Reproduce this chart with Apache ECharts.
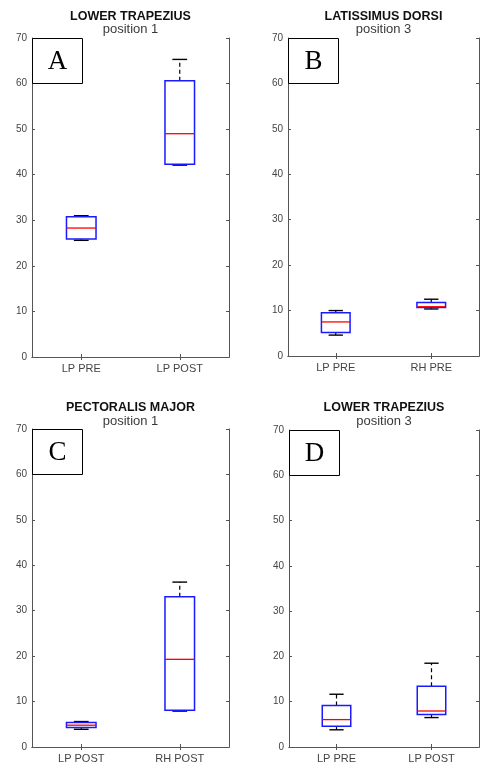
<!DOCTYPE html>
<html>
<head>
<meta charset="utf-8">
<script src="https://cdn.jsdelivr.net/npm/echarts@6/dist/echarts.min.js"></script>
<style>
  html, body { margin: 0; padding: 0; background: #fff; }
  #chart { width: 480px; height: 768px; }
</style>
</head>
<body>
<div id="chart"></div>
<script>
// Panel headings
const panelTitles = ['LOWER TRAPEZIUS', 'LATISSIMUS DORSI', 'PECTORALIS MAJOR', 'LOWER TRAPEZIUS'];
const panelSubtitles = ['position 1', 'position 3', 'position 1', 'position 3'];
const panelLetters = ['A', 'B', 'C', 'D'];

// Group names per panel
const categoriesA = ['LP PRE', 'LP POST'];
const categoriesB = ['LP PRE', 'RH PRE'];
const categoriesC = ['LP POST', 'RH POST'];
const categoriesD = ['LP PRE', 'LP POST'];

// Box statistics per group: [lower whisker, Q1, median, Q3, upper whisker]
const statsA = [[25.6, 25.9, 28.3, 30.8, 31.0], [42.1, 42.3, 49.0, 60.6, 65.3]];
const statsB = [[4.6, 5.2, 7.5, 9.5, 10.0], [10.35, 10.65, 10.85, 11.75, 12.5]];
const statsC = [[3.9, 4.3, 4.8, 5.4, 5.6], [7.9, 8.1, 19.3, 33.1, 36.3]];
const statsD = [[3.8, 4.6, 6.05, 9.15, 11.65], [6.5, 7.15, 7.95, 13.4, 18.5]];

// Shared value axis
const yMin = 0;
const yMax = 70;
const yStep = 10;

const panels = [
  { cats: categoriesA, stats: statsA, grid: { left: 32, top: 38, width: 197, height: 319 }, titleY: 16.5, subY: 29.5 },
  { cats: categoriesB, stats: statsB, grid: { left: 288, top: 38, width: 191, height: 318 }, titleY: 16.5, subY: 29.5 },
  { cats: categoriesC, stats: statsC, grid: { left: 32, top: 429, width: 197, height: 318 }, titleY: 407.5, subY: 421 },
  { cats: categoriesD, stats: statsD, grid: { left: 289, top: 430, width: 190, height: 317 }, titleY: 407.5, subY: 421.5 }
];

const axisColor = '#555';
const labelColor = '#444';

function renderBox(params, api) {
  const x = api.value(0);
  const lo = api.value(1), q1 = api.value(2), med = api.value(3), q3 = api.value(4), hi = api.value(5);
  const band = api.size([1, 0])[0];
  const half = band * 0.15;
  const capHalf = band * 0.075;
  const pLo = api.coord([x, lo]);
  const pQ1 = api.coord([x, q1]);
  const pMed = api.coord([x, med]);
  const pQ3 = api.coord([x, q3]);
  const pHi = api.coord([x, hi]);
  const cx = pMed[0];
  const dashStyle = { stroke: '#000', lineWidth: 1.2, lineDash: [4, 3] };
  const capStyle = { stroke: '#000', lineWidth: 1.4 };
  return {
    type: 'group',
    children: [
      { type: 'line', shape: { x1: cx, y1: pQ3[1], x2: cx, y2: pHi[1] }, style: dashStyle },
      { type: 'line', shape: { x1: cx, y1: pQ1[1], x2: cx, y2: pLo[1] }, style: dashStyle },
      { type: 'line', shape: { x1: cx - capHalf, y1: pHi[1], x2: cx + capHalf, y2: pHi[1] }, style: capStyle },
      { type: 'line', shape: { x1: cx - capHalf, y1: pLo[1], x2: cx + capHalf, y2: pLo[1] }, style: capStyle },
      {
        type: 'rect',
        shape: { x: cx - half, y: pQ3[1], width: half * 2, height: pQ1[1] - pQ3[1] },
        style: { stroke: '#1a1aff', lineWidth: 1.5, fill: 'none' }
      },
      { type: 'line', shape: { x1: cx - half, y1: pMed[1], x2: cx + half, y2: pMed[1] }, style: { stroke: '#ff0000', lineWidth: 1.3 } }
    ]
  };
}

const grids = [], xAxes = [], yAxes = [], series = [], graphics = [];

panels.forEach((p, i) => {
  grids.push(Object.assign({ outerBoundsMode: 'none' }, p.grid));
  // bottom and top category axes
  xAxes.push({
    type: 'category', gridIndex: i, data: p.cats, position: 'bottom',
    axisLine: { show: true, lineStyle: { color: axisColor, width: 1 } },
    axisTick: { show: true, inside: true, alignWithLabel: true, length: 3, lineStyle: { color: axisColor } },
    axisLabel: { color: labelColor, fontFamily: 'Liberation Sans, Arial', fontSize: 11, margin: 6 },
    splitLine: { show: false }
  });
  xAxes.push({
    type: 'category', gridIndex: i, data: p.cats, position: 'top',
    axisLine: { show: true, lineStyle: { color: axisColor, width: 1 } },
    axisTick: { show: true, inside: true, alignWithLabel: true, length: 3, lineStyle: { color: axisColor } },
    axisLabel: { show: false },
    splitLine: { show: false }
  });
  // left and right value axes
  yAxes.push({
    type: 'value', gridIndex: i, min: yMin, max: yMax, interval: yStep, position: 'left',
    axisLine: { show: true, lineStyle: { color: axisColor, width: 1 } },
    axisTick: { show: true, inside: true, length: 3, lineStyle: { color: axisColor } },
    axisLabel: { color: labelColor, fontFamily: 'Liberation Sans, Arial', fontSize: 10, margin: 5 },
    splitLine: { show: false }
  });
  yAxes.push({
    type: 'value', gridIndex: i, min: yMin, max: yMax, interval: yStep, position: 'right',
    axisLine: { show: true, lineStyle: { color: axisColor, width: 1 } },
    axisTick: { show: true, inside: true, length: 3, lineStyle: { color: axisColor } },
    axisLabel: { show: false },
    splitLine: { show: false }
  });
  series.push({
    type: 'custom',
    xAxisIndex: i * 2,
    yAxisIndex: i * 2,
    renderItem: renderBox,
    encode: { x: 0, y: [1, 2, 3, 4, 5] },
    data: p.stats.map((s, k) => [k].concat(s)),
    z: 3
  });

  const cx = p.grid.left + p.grid.width / 2;
  graphics.push({
    type: 'text', x: cx, y: p.titleY,
    style: { text: panelTitles[i], font: 'bold 12.5px "Liberation Sans", Arial', fill: '#111', align: 'center', verticalAlign: 'middle' }
  });
  graphics.push({
    type: 'text', x: cx, y: p.subY,
    style: { text: panelSubtitles[i], font: '13px "Liberation Sans", Arial', fill: '#3a3a3a', align: 'center', verticalAlign: 'middle' }
  });
  // corner label box
  graphics.push({
    type: 'rect', z: 10,
    shape: { x: p.grid.left + 0.5, y: p.grid.top + 0.5, width: 50, height: 45 },
    style: { fill: '#fff', stroke: '#000', lineWidth: 1 }
  });
  graphics.push({
    type: 'text', z: 11,
    x: p.grid.left + 25.5, y: p.grid.top + 24,
    style: { text: panelLetters[i], font: '27px "Liberation Serif", "Times New Roman", serif', fill: '#000', align: 'center', verticalAlign: 'middle' }
  });
});

const chart = echarts.init(document.getElementById('chart'), null, { renderer: 'canvas' });
chart.setOption({
  animation: false,
  backgroundColor: '#fff',
  grid: grids,
  xAxis: xAxes,
  yAxis: yAxes,
  series: series,
  graphic: graphics
});
</script>
</body>
</html>
